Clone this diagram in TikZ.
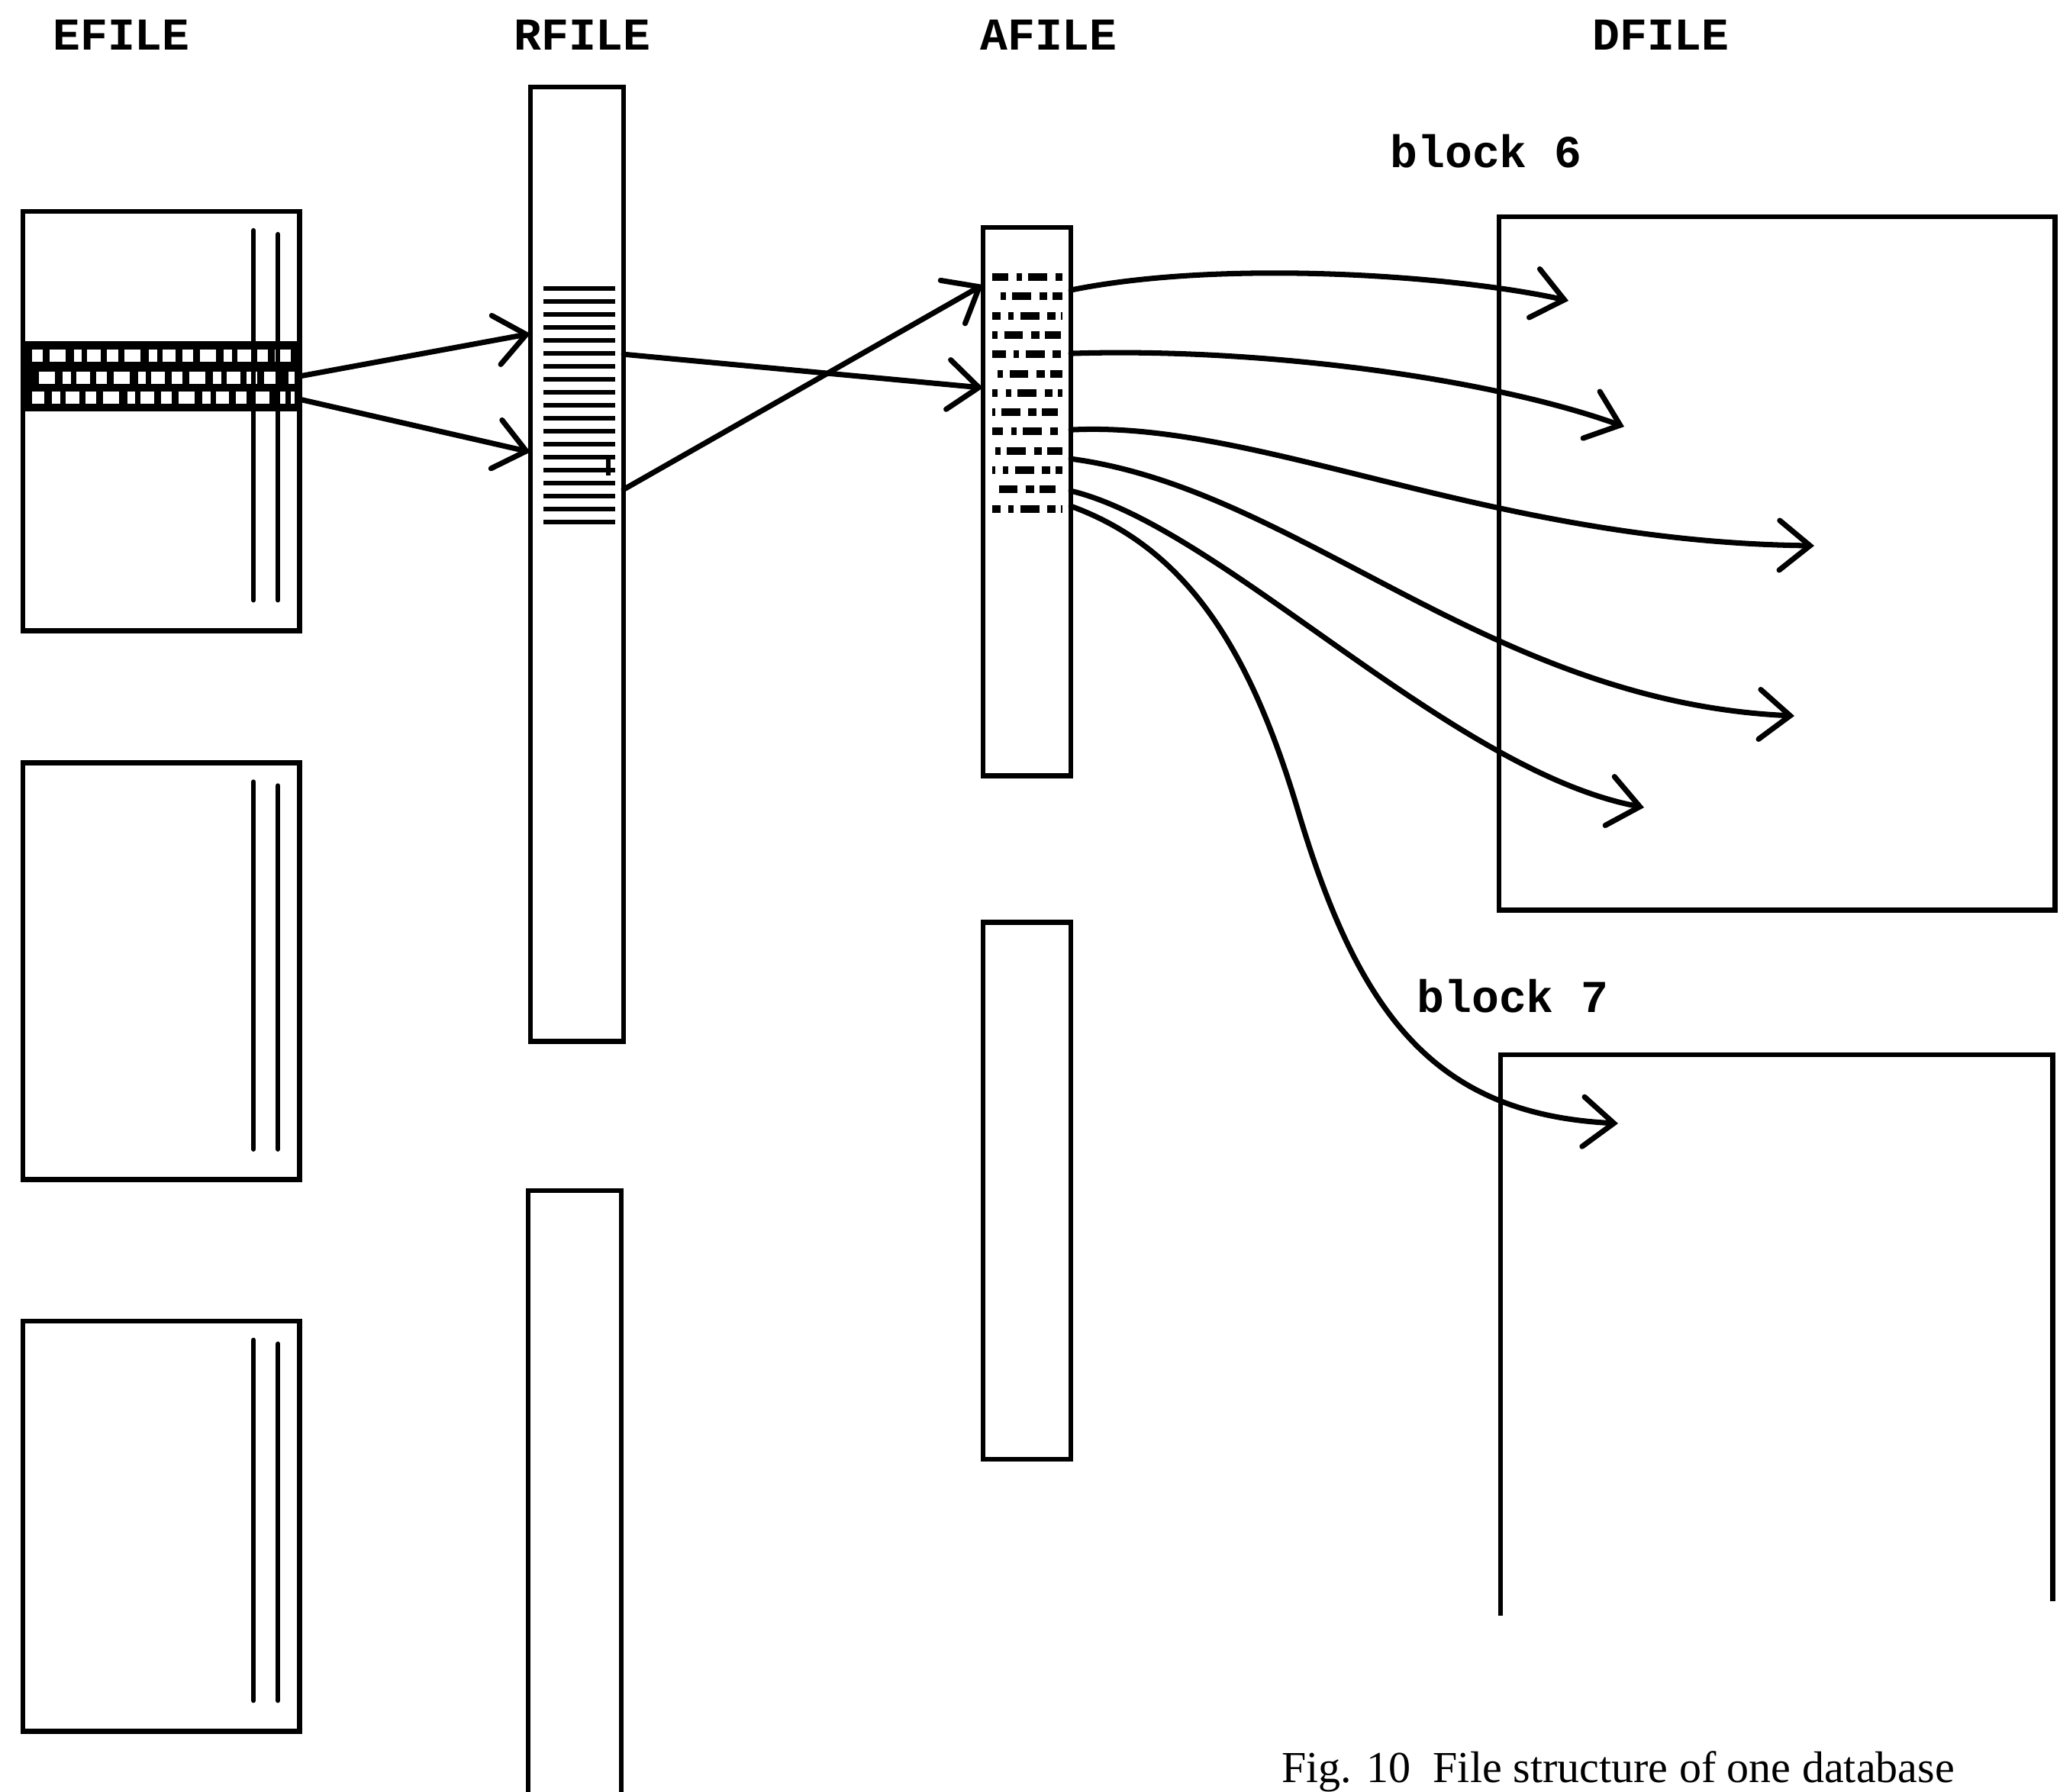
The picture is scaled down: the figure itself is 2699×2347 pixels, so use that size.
\documentclass[tikz,border=0pt]{standalone}
\usepackage{fontspec}
\setmainfont{Liberation Serif}
\setmonofont{Liberation Mono}
\usepackage{tikz}
\usetikzlibrary{positioning,arrows.meta}

\begin{document}
\begin{tikzpicture}[
            x=0.01cm, y=-0.01cm,
            filebox/.style={draw, line width=1.9pt, rectangle, inner sep=0pt, outer sep=0pt, anchor=north west},
            openbox/.style={rectangle, inner sep=0pt, outer sep=0pt, anchor=north west},
            sideline/.style={line width=1.9pt},
            heading/.style={font=\ttfamily\bfseries\fontsize{17}{20}\selectfont},
            blocklabel/.style={font=\ttfamily\bfseries\fontsize{17}{20}\selectfont},
            rule/.style={line width=1.8pt, line cap=round},
            ptr/.style={line width=2pt, line cap=round, -{Straight Barb[length=4mm, width=6.5mm, line cap=round]}}
        ]
            \useasboundingbox (0,0) rectangle (2699,2347);

            % headings
            \node (hE) [heading] at (159,46) {EFILE};
            \node (hR) [heading] at (763,46) {RFILE};
            \node (hA) [heading] at (1374,46) {AFILE};
            \node (hD) [heading] at (2176,46) {DFILE};
            \node (b6) [blocklabel] at (1947,198) {block 6};
            \node (b7) [blocklabel] at (1982,1305) {block 7};

            % EFILE
            \node (efile1) [filebox, minimum width=3.62cm, minimum height=5.49cm] at (30,277) {};
            \node (efile2) [filebox, minimum width=3.62cm, minimum height=5.46cm, below=1.73cm of efile1] {};
            \node (efile3) [filebox, minimum width=3.62cm, minimum height=5.37cm, below=1.85cm of efile2] {};
            \node (rec) [openbox, fill=black, minimum width=3.62cm, minimum height=0.92cm] at (30,447) {};
            \foreach \yy/\ph in {466/0, 495/4, 521/8}
                \draw[white, line width=4.6pt, dash pattern=on 4pt off 2.5pt on 6pt off 3pt on 3pt off 2pt on 5pt off 2.5pt, dash phase=\ph pt] (42,\yy) -- (386,\yy);
            \foreach \b in {efile1,efile2,efile3} {
                \draw[rule] ([xshift=-0.6cm,yshift=-0.25cm]\b.north east) -- ([xshift=-0.6cm,yshift=0.4cm]\b.south east);
                \draw[rule] ([xshift=-0.28cm,yshift=-0.3cm]\b.north east) -- ([xshift=-0.28cm,yshift=0.4cm]\b.south east);
            }

            % RFILE
            \node (rfile1) [filebox, minimum width=1.22cm, minimum height=12.5cm] at (695,114) {};
            \node (rfile2) [openbox, minimum width=1.22cm, minimum height=8cm] at (692,1560) {};
            \draw[sideline] (rfile2.south west) |- (rfile2.north east) -- (rfile2.south east);
            \foreach \k in {0,...,18}
                \draw[line width=1.6pt] (712,378+17*\k) -- (806,378+17*\k);
            \draw[line width=1.6pt] (797,602) -- (797,623);

            % AFILE
            \node (afile1) [filebox, minimum width=1.15cm, minimum height=7.18cm] at (1288,298) {};
            \node (afile2) [filebox, minimum width=1.15cm, minimum height=7.03cm, below=1.92cm of afile1] {};
            \foreach \yy/\ph in {363/0, 388/6, 414/3, 439/9, 464/1, 490/7, 515/4, 540/10, 565/2, 591/8, 616/5, 641/11, 667/3}
                \draw[line width=2.6pt, dash pattern=on 6pt off 3pt on 2pt off 2.5pt on 7pt off 3pt on 3pt off 2pt, dash phase=\ph pt] (1300,\yy) -- (1392,\yy);

            % DFILE
            \node (dfile1) [filebox, minimum width=7.28cm, minimum height=9.08cm] at (1964,284) {};
            \node (dfile2) [openbox, minimum width=7.23cm, minimum height=7.35cm] at (1966,1382) {};
            \draw[sideline] (dfile2.south west) |- (dfile2.north east) -- ([yshift=0.19cm]dfile2.south east);

            % arrow ends inside the blocks
            \coordinate (tip1) at (2055,394);
            \coordinate (tip2) at (2128,559);
            \coordinate (tip3) at (2377,715);
            \coordinate (tip4) at (2351,938);
            \coordinate (tip5) at (2154,1058);
            \coordinate (tip6) at (2120,1472);

            \draw [ptr] (rec.east) -- ([yshift=-3.23cm]rfile1.north west);
            \draw [ptr] ([yshift=-0.3cm]rec.east) -- ([yshift=-4.78cm]rfile1.north west);
            \draw [ptr] ([yshift=-3.5cm]rfile1.north east) -- ([yshift=-2.1cm]afile1.north west);
            \draw [ptr] ([yshift=-5.27cm]rfile1.north east) -- ([yshift=-0.75cm]afile1.north west);

            \draw [ptr] ([yshift=-0.82cm]afile1.north east) .. controls +(197,-40) and (1900,360) .. (tip1);
            \draw [ptr] ([yshift=-1.65cm]afile1.north east) .. controls +(247,-8) and (1950,495) .. (tip2);
            \draw [ptr] ([yshift=-2.65cm]afile1.north east) .. controls +(247,-13) and (1950,710) .. (tip3);
            \draw [ptr] ([yshift=-3.03cm]afile1.north east) .. controls +(297,39) and (1950,920) .. (tip4);
            \draw [ptr] ([yshift=-3.45cm]afile1.north east) .. controls +(197,47) and (1900,1010) .. (tip5);
            \draw [ptr] ([yshift=-3.65cm]afile1.north east) .. controls +(157,57) and (1640,860) .. (1700,1060)
                .. controls (1780,1330) and (1880,1460) .. (tip6);

            \node (caption) [font=\fontsize{16.5}{20}\selectfont, anchor=base west] at (1667,2335) {Fig. 10\enspace File structure of one database};
        \end{tikzpicture}
\end{document}
